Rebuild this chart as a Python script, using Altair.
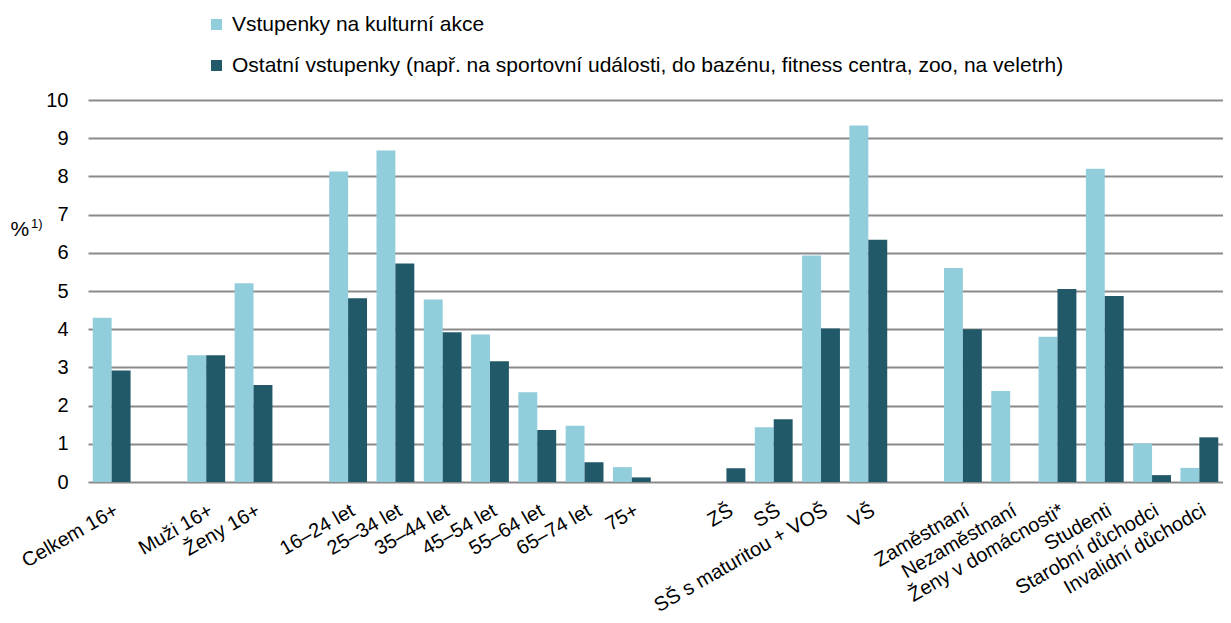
import altair as alt
import pandas as pd

categories = ["Celkem 16+", " ", "Muži 16+", "Ženy 16+", "  ", "16–24 let", "25–34 let",
              "35–44 let", "45–54 let", "55–64 let", "65–74 let", "75+", "   ", "ZŠ", "SŠ",
              "SŠ s maturitou + VOŠ", "VŠ", "    ", "Zaměstnaní", "Nezaměstnaní",
              "Ženy v domácnosti*", "Studenti", "Starobní důchodci", "Invalidní důchodci"]
kulturni = [4.3, None, 3.32, 5.2, None, 8.13, 8.68, 4.78, 3.86, 2.35, 1.47, 0.39, None,
            0.0, 1.43, 5.93, 9.33, None, 5.6, 2.38, 3.8, 8.2, 1.01, 0.37]
ostatni = [2.92, None, 3.32, 2.54, None, 4.81, 5.72, 3.92, 3.16, 1.36, 0.52, 0.12, None,
           0.36, 1.64, 4.02, 6.34, None, 4.0, 0.0, 5.05, 4.87, 0.18, 1.17]
series = ["Vstupenky na kulturní akce",
          "Ostatní vstupenky (např. na sportovní události, do bazénu, fitness centra, zoo, na veletrh)"]
colors = ["#92CDDC", "#215968"]
y_ticks = list(range(0, 11))

rows = []
for c, a, b in zip(categories, kulturni, ostatni):
    if a is not None:
        rows.append({"cat": c, "series": series[0], "value": a})
    if b is not None:
        rows.append({"cat": c, "series": series[1], "value": b})
df = pd.DataFrame(rows)

FONT = "Liberation Sans"

bars = alt.Chart(df).mark_bar().encode(
    x=alt.X("cat:N", sort=categories,
            scale=alt.Scale(domain=categories, paddingInner=0.2, paddingOuter=0.1),
            axis=alt.Axis(title=None, labelAngle=-30, labelAlign="right", labelBaseline="top",
                          labelFontSize=20, labelFont=FONT, labelColor="#000000",
                          labelPadding=18, labelLimit=0, labelOverlap=False,
                          ticks=False, domain=False, grid=False)),
    xOffset=alt.XOffset("series:N", sort=series,
                        scale=alt.Scale(domain=series, paddingInner=0, paddingOuter=0)),
    y=alt.Y("value:Q", scale=alt.Scale(domain=[0, 10], nice=False),
            axis=alt.Axis(values=y_ticks, title="%", titleAngle=0, titleAlign="left",
                          titleBaseline="middle", titleX=-78, titleY=129,
                          titleFont=FONT, titleFontSize=21, titleFontWeight="normal",
                          titleColor="#000000",
                          labelFontSize=20, labelFont=FONT, labelColor="#000000",
                          labelPadding=20, ticks=False, domain=False,
                          grid=True, gridColor="#8a8a8a", gridWidth=2)),
    color=alt.Color("series:N", sort=series,
                    scale=alt.Scale(domain=series, range=colors),
                    legend=alt.Legend(title=None, orient="none", legendX=118, legendY=-86,
                                      direction="vertical", symbolType="square",
                                      symbolSize=120, symbolStrokeWidth=0,
                                      labelFont=FONT, labelFontSize=21, labelColor="#000000",
                                      labelOffset=5, rowPadding=19, labelLimit=0)),
)

sup = alt.Chart(pd.DataFrame({"t": ["1)"]})).mark_text(
    font=FONT, fontSize=13, align="left", baseline="middle", color="#000000"
).encode(x=alt.value(-57), y=alt.value(124), text="t:N")

chart = alt.layer(bars, sup).properties(
    width=1135, height=382,
    autosize=alt.AutoSizeParams(type="none"),
    padding={"left": 80, "top": 92, "right": 0, "bottom": 140},
).configure_view(stroke=None)

chart.save("out.html", embed_options={"renderer": "svg", "actions": False})
